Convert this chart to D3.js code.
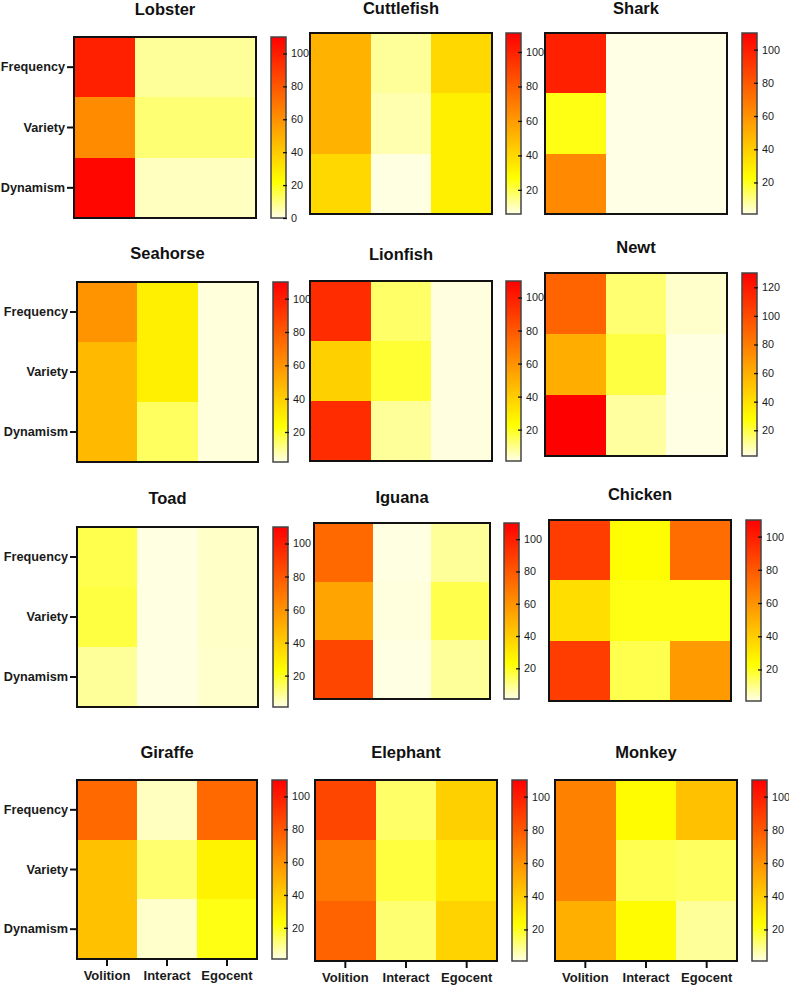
<!DOCTYPE html>
<html><head><meta charset="utf-8">
<script src="https://cdn.jsdelivr.net/npm/d3@7"></script>
<style>
body{margin:0;background:#fff}
svg{display:block}
text{font-family:Arial,"Liberation Sans",Helvetica,sans-serif}
</style>
</head><body>
<svg id="chart" width="789" height="985"></svg>
<script>
// ---- data ----
const animals = ["Lobster","Cuttlefish","Shark","Seahorse","Lionfish","Newt","Toad","Iguana","Chicken","Giraffe","Elephant","Monkey"];
const rowLabels = ["Frequency","Variety","Dynamism"];
const colLabels = ["Volition","Interact","Egocent"];

// rows: Frequency, Variety, Dynamism ; columns: Volition, Interact, Egocent
const lobster    = [[99, 7.4, 7.4], [62, 11, 11], [108, 3.6, 3.6]];
const cuttlefish = [[52, 13, 40], [52, 11, 32], [40, 6.5, 32]];
const shark      = [[99, 1, 1], [21, 1, 1], [63, 1, 1]];
const seahorse   = [[60, 29, 3], [47, 29, 3], [47, 14.6, 3]];
const lionfish   = [[95, 13, 1.6], [39, 18, 1.6], [95, 8.3, 1.6]];
const newt       = [[90, 15, 5], [60, 20.4, 2.6], [130, 9.8, 2.3]];
const toad       = [[15.5, 1.5, 3.8], [16.5, 1.5, 3.8], [8.3, 1.5, 3.5]];
const iguana     = [[74, 1.5, 8.3], [54, 1.8, 15.6], [86, 1.3, 8.3]];
const chicken    = [[89, 23, 73], [34, 21, 21], [89, 15.5, 57]];
const giraffe    = [[74, 4.6, 74], [44, 12.2, 27], [44, 3.5, 21]];
const elephant   = [[86, 13, 39], [69, 16.7, 31], [76, 12, 38]];
const monkey     = [[66, 24, 44], [66, 15, 13.8], [50, 24, 8.3]];
const values = [lobster, cuttlefish, shark, seahorse, lionfish, newt, toad, iguana, chicken, giraffe, elephant, monkey];

const scaleMin = [0, 6, 1, 2, 1, 2, 1, 1, 1, 1, 1, 1];
const scaleMax = [110, 111, 110, 110, 110, 130, 110, 110, 110, 110, 110, 110];
const ticksStd = [20, 40, 60, 80, 100];
const colorbarTicks = [[0,20,40,60,80,100], ticksStd, ticksStd, ticksStd, ticksStd, [20,40,60,80,100,120],
                       ticksStd, ticksStd, ticksStd, ticksStd, ticksStd, ticksStd];

// ---- layout (pixel geometry of each panel) ----
const layout = [
  {x:74,  y:37,  w:182, h:181, cb:271, ty:15},
  {x:310, y:33,  w:182, h:181, cb:506, ty:14},
  {x:545, y:33,  w:182, h:181, cb:742, ty:14},
  {x:77,  y:282, w:181, h:180, cb:273, ty:259},
  {x:310, y:281, w:182, h:180, cb:506, ty:260},
  {x:545, y:273, w:182, h:183, cb:742, ty:253},
  {x:77,  y:527, w:181, h:180, cb:273, ty:504},
  {x:314, y:523, w:176, h:176, cb:504, ty:503},
  {x:549, y:520, w:182, h:181, cb:746, ty:500},
  {x:77,  y:780, w:180, h:179, cb:272, ty:758},
  {x:315, y:780, w:182, h:181, cb:512, ty:758},
  {x:555, y:780, w:182, h:181, cb:752, ty:758}
];
const cbW = 15;
const stopColors = ["#FFFFE6", "#FFFF00", "#FF0000"];
const yellowPos = 0.2;

const svg = d3.select("#chart");
const defs = svg.append("defs");

animals.forEach((name, i) => {
  const L = layout[i];
  const lo = scaleMin[i], hi = scaleMax[i];
  const color = d3.scaleLinear()
    .domain([lo, lo + yellowPos * (hi - lo), hi])
    .range(stopColors)
    .interpolate(d3.interpolateRgb)
    .clamp(true);

  const xBand = d3.scaleBand().domain(colLabels).range([L.x, L.x + L.w]);
  const yBand = d3.scaleBand().domain(rowLabels).range([L.y, L.y + L.h]);

  const g = svg.append("g").attr("class", "panel");

  // title
  g.append("text")
    .attr("x", L.x + L.w / 2).attr("y", L.ty)
    .attr("text-anchor", "middle")
    .attr("font-size", "16.5px").attr("font-weight", "bold")
    .attr("fill", "#111")
    .text(name);

  // cells
  const cells = [];
  values[i].forEach((row, r) => row.forEach((v, c) => cells.push({r: rowLabels[r], c: colLabels[c], v})));
  g.selectAll("rect.cell").data(cells).enter().append("rect")
    .attr("class", "cell")
    .attr("x", d => xBand(d.c)).attr("y", d => yBand(d.r))
    .attr("width", xBand.bandwidth() + 0.5).attr("height", yBand.bandwidth() + 0.5)
    .attr("fill", d => color(d.v))
    .attr("shape-rendering", "crispEdges");

  // frame
  g.append("rect")
    .attr("x", L.x).attr("y", L.y).attr("width", L.w).attr("height", L.h)
    .attr("fill", "none").attr("stroke", "#111").attr("stroke-width", 2);

  // left axis (first column)
  if (i % 3 === 0) {
    const ax = g.append("g").attr("transform", `translate(${L.x - 1},0)`)
      .call(d3.axisLeft(yBand).tickSize(6).tickPadding(2));
    ax.select(".domain").remove();
    ax.selectAll("line").attr("stroke", "#111").attr("stroke-width", 2);
    ax.selectAll("text").attr("font-size", "12.7px").attr("font-weight", "bold")
      .attr("fill", "#1a1a1a").attr("font-family", "Arial, 'Liberation Sans', sans-serif");
  }
  // bottom axis (last row)
  if (i >= 9) {
    const ax = g.append("g").attr("transform", `translate(0,${L.y + L.h + 1})`)
      .call(d3.axisBottom(xBand).tickSize(6).tickPadding(5));
    ax.select(".domain").remove();
    ax.selectAll("line").attr("stroke", "#111").attr("stroke-width", 2);
    ax.selectAll("text").attr("font-size", "13px").attr("font-weight", "bold")
      .attr("fill", "#1a1a1a").attr("font-family", "Arial, 'Liberation Sans', sans-serif");
  }

  // colorbar
  const gid = "grad" + i;
  const grad = defs.append("linearGradient").attr("id", gid)
    .attr("x1", 0).attr("y1", 1).attr("x2", 0).attr("y2", 0);
  [0, yellowPos, 1].forEach((o, k) => grad.append("stop").attr("offset", o).attr("stop-color", stopColors[k]));
  g.append("rect")
    .attr("x", L.cb).attr("y", L.y).attr("width", cbW).attr("height", L.h)
    .attr("fill", `url(#${gid})`)
    .attr("stroke", "#444").attr("stroke-width", 1.5);

  const cbScale = d3.scaleLinear().domain([lo, hi]).range([L.y + L.h, L.y]);
  const cax = g.append("g").attr("transform", `translate(${L.cb + cbW - 3},0)`)
    .call(d3.axisRight(cbScale).tickValues(colorbarTicks[i]).tickSize(4).tickPadding(4).tickFormat(d3.format("d")));
  cax.select(".domain").remove();
  cax.selectAll("line").attr("stroke", "#111").attr("stroke-width", 1.3);
  cax.selectAll("text").attr("font-size", "10.8px").attr("fill", "#1a1a1a")
    .attr("font-family", "Arial, 'Liberation Sans', sans-serif");
});
</script>
</body></html>
